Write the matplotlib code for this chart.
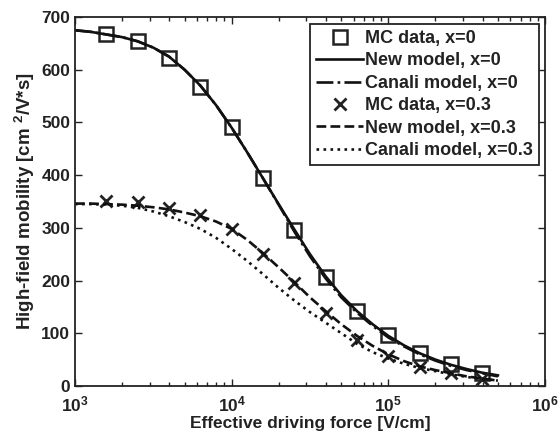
import numpy as np
import matplotlib
matplotlib.use("Agg")
import matplotlib.pyplot as plt
from matplotlib.ticker import FixedLocator, FuncFormatter, LogLocator, NullFormatter

plt.rcParams['font.family'] = ['Liberation Sans', 'DejaVu Sans']
plt.rcParams['font.weight'] = 'bold'
plt.rcParams['mathtext.fontset'] = 'custom'
plt.rcParams['mathtext.rm'] = 'Liberation Sans:bold'
plt.rcParams['mathtext.bf'] = 'Liberation Sans:bold'
plt.rcParams['mathtext.it'] = 'Liberation Sans:bold'

# Monte Carlo points (field in V/cm, mobility in cm^2/Vs)
mc_field = [1585, 2512, 3981, 6310, 10000, 15849, 25119, 39811, 63096,
            100000, 158489, 251189, 398107]
mc_x0 = [667, 654, 622, 568, 492, 394, 296, 207, 142, 96, 62, 41, 25]
mc_x03 = [350, 349, 337, 324, 297, 250, 195, 138, 88, 56, 36, 24, 13]

# model curves, log10(field) from 3.0 to 5.7
curve_logf = [3.0, 3.1, 3.2, 3.3, 3.4, 3.5, 3.6, 3.7, 3.8, 3.9, 4.0, 4.1, 4.2, 4.3,
              4.4, 4.5, 4.6, 4.7, 4.8, 4.9, 5.0, 5.1, 5.2, 5.3, 5.4, 5.5, 5.6, 5.7]
new_x0 = [675, 672, 667, 662, 654, 642, 625, 600, 570, 533, 490, 443, 394, 345,
          297, 250, 208, 172, 142, 117, 95, 77, 62, 50, 40, 32, 25, 20]
canali_x0 = [675, 672, 667, 662, 654, 642, 625, 600, 570, 533, 490, 443, 394, 344,
             293, 246, 204, 168, 139, 114, 92, 75, 60, 48, 38, 30, 24, 18]
new_x03 = [346, 346, 345, 344, 342, 339, 335, 329, 322, 312, 298, 277, 252, 225,
           197, 168, 142, 117, 95, 76, 60, 47, 37, 30, 24, 18, 14, 10]
canali_x03 = [345, 345, 344, 342, 338, 331, 322, 311, 298, 281, 260, 237, 212, 186,
              162, 140, 120, 100, 80, 64, 52, 42, 34, 28, 22, 17, 13, 10]

curve_field = [10 ** v for v in curve_logf]

fig = plt.figure(figsize=(5.6, 4.38), dpi=100)
ax = fig.add_axes([0.134, 0.119, 0.839, 0.842])

lw = 1.9
ax.plot(mc_field, mc_x0, 's', ms=10.5, mfc='none', mec='#222222', mew=1.8,
        label='MC data, x=0')
ax.plot(curve_field, new_x0, '-', color='#111111', lw=lw, label='New model, x=0')
ax.plot(curve_field, canali_x0, '-.', color='#111111', lw=lw,
        label='Canali model, x=0')
ax.plot(mc_field, mc_x03, 'x', ms=9, mec='#222222', mew=2.0,
        label='MC data, x=0.3')
ax.plot(curve_field, new_x03, '--', color='#111111', lw=lw,
        label='New model, x=0.3')
ax.plot(curve_field, canali_x03, ':', color='#111111', lw=lw,
        label='Canali model, x=0.3')

ax.set_xscale('log')
ax.set_xlim(1e3, 1e6)
ax.set_ylim(0, 700)
ax.set_yticks(range(0, 701, 100))
ax.xaxis.set_major_locator(FixedLocator([1e3, 1e4, 1e5, 1e6]))
ax.xaxis.set_major_formatter(FuncFormatter(
    lambda v, p: r'$\mathbf{10^{%d}}$' % round(np.log10(v))))
ax.xaxis.set_minor_locator(LogLocator(base=10, subs=np.arange(2, 10)))
ax.xaxis.set_minor_formatter(NullFormatter())

ax.tick_params(which='both', direction='in', top=True, right=True,
               labelsize=12.5, width=1.0, colors='#222222')
ax.tick_params(which='major', length=5)
ax.tick_params(which='minor', length=3)
ax.tick_params(axis='x', pad=6)
for lab in ax.get_yticklabels():
    lab.set_fontweight('bold')
for s in ax.spines.values():
    s.set_linewidth(1.3)
    s.set_color('#222222')

ax.set_xlabel('Effective driving force [V/cm]', fontsize=12.5, fontweight='bold',
              color='#222222', labelpad=1)
ax.set_ylabel(r'High-field mobility [cm $^{\mathbf{2}}$/V*s]', fontsize=13.5,
              fontweight='bold', color='#222222', labelpad=3)

leg = ax.legend(loc='upper right', bbox_to_anchor=(0.988, 0.982),
                borderaxespad=0, fancybox=False, framealpha=1,
                prop={'size': 13, 'weight': 'bold'}, handlelength=2.6,
                handletextpad=0.1, labelspacing=0.3, borderpad=0.35)
leg.get_frame().set_edgecolor('#222222')
leg.get_frame().set_linewidth(1.3)
for t in leg.get_texts():
    t.set_color('#222222')

fig.savefig('out.png', dpi=100)
